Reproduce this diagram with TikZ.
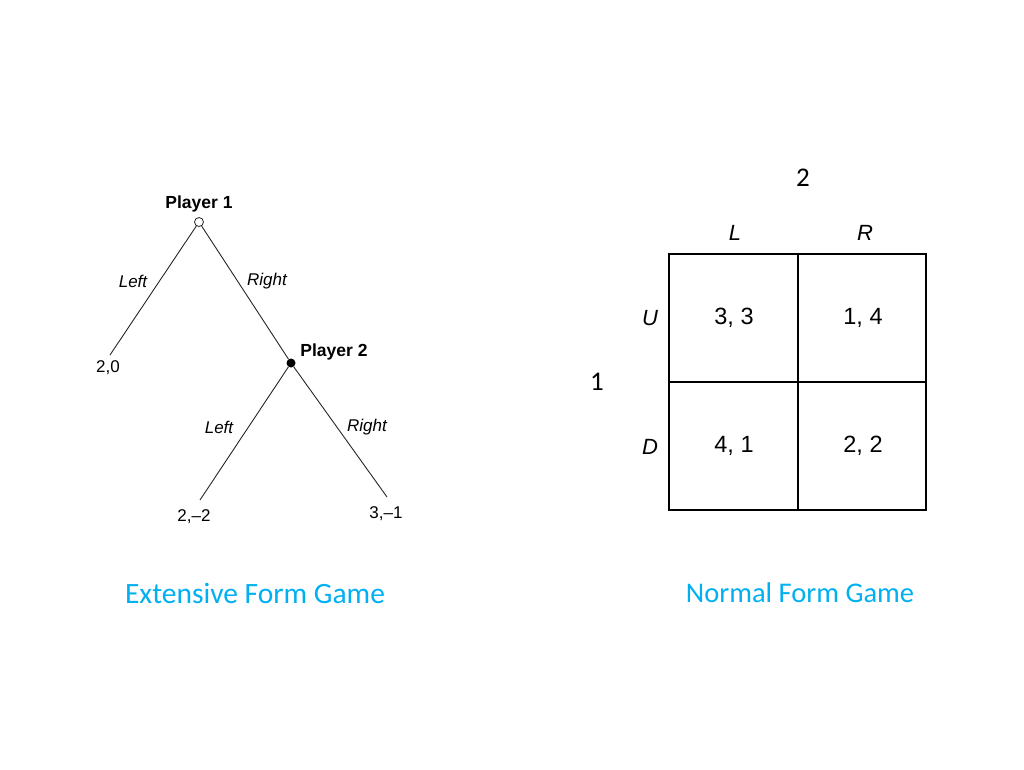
\documentclass[tikz,border=0pt]{standalone}
\usepackage{fontspec}
\setmainfont{Liberation Sans}
\newfontfamily\calib{Carlito}
\definecolor{titlecyan}{RGB}{0,176,240}
\begin{document}
\begin{tikzpicture}[x=1pt,y=-1pt,
  branch/.style={draw=black!85,line width=0.9pt},
  treelbl/.style={font=\fontsize{17}{19}\selectfont\itshape,inner sep=0pt},
  pay/.style={font=\fontsize{17}{19}\selectfont,inner sep=0pt},
  plbl/.style={font=\fontsize{17.5}{19}\selectfont\bfseries,inner sep=0pt},
  cell/.style={font=\fontsize{23.5}{26}\selectfont,inner sep=0pt},
  strat/.style={font=\fontsize{22}{24}\selectfont\itshape,inner sep=0pt},
  playnum/.style={font=\calib\fontsize{27}{30}\selectfont,inner sep=0pt},
  title/.style={font=\calib\fontsize{29.5}{32}\selectfont,text=titlecyan,inner sep=0pt},
  grid/.style={draw=black,line width=1.4pt}]
\useasboundingbox (0,0) rectangle (1024,769);
% tree
\node[circle,draw=black!85,fill=white,line width=0.8pt,minimum size=9pt,inner sep=0pt] (p1) at (199,222) {};
\node[circle,fill=black,minimum size=9pt,inner sep=0pt] (p2) at (291,363) {};
\coordinate (l1) at (110,355);
\coordinate (l2) at (200,500);
\coordinate (l3) at (387,497);
\draw[branch] (p1) -- (l1);
\draw[branch] (p1) -- (p2);
\draw[branch] (p2) -- (l2);
\draw[branch] (p2) -- (l3);
\node[plbl] (t1) at (199,204) {Player 1};
\node[plbl] (t2) at (334,352) {Player 2};
\node[treelbl] (e1) at (133,281) {Left};
\node[treelbl] (e2) at (267,281) {Right};
\node[treelbl] (e3) at (219,427) {Left};
\node[treelbl] (e4) at (367,427) {Right};
\node[pay] (v1) at (108,368) {2,0};
\node[pay] (v2) at (194,517) {2,--2};
\node[pay] (v3) at (386,514) {3,--1};
% matrix
\draw[grid] (669,254) rectangle (926,510);
\draw[grid] (798,254) -- (798,510);
\draw[grid] (669,382) -- (926,382);
\node[playnum] (n2) at (803,178) {2};
\node[playnum] (n1) at (597,382) {1};
\node[strat] (sL) at (735,233) {L};
\node[strat] (sR) at (865,233) {R};
\node[strat] (sU) at (650,318) {U};
\node[strat] (sD) at (650,447) {D};
\node[cell] (c11) at (734,318) {3, 3};
\node[cell] (c12) at (863,318) {1, 4};
\node[cell] (c21) at (734,446) {4, 1};
\node[cell] (c22) at (863,446) {2, 2};
% titles
\node[title] (tl) at (255,593) {Extensive Form Game};
\node[title,font=\calib\fontsize{28.5}{32}\selectfont] (tr) at (800,593) {Normal Form Game};
\end{tikzpicture}
\end{document}
